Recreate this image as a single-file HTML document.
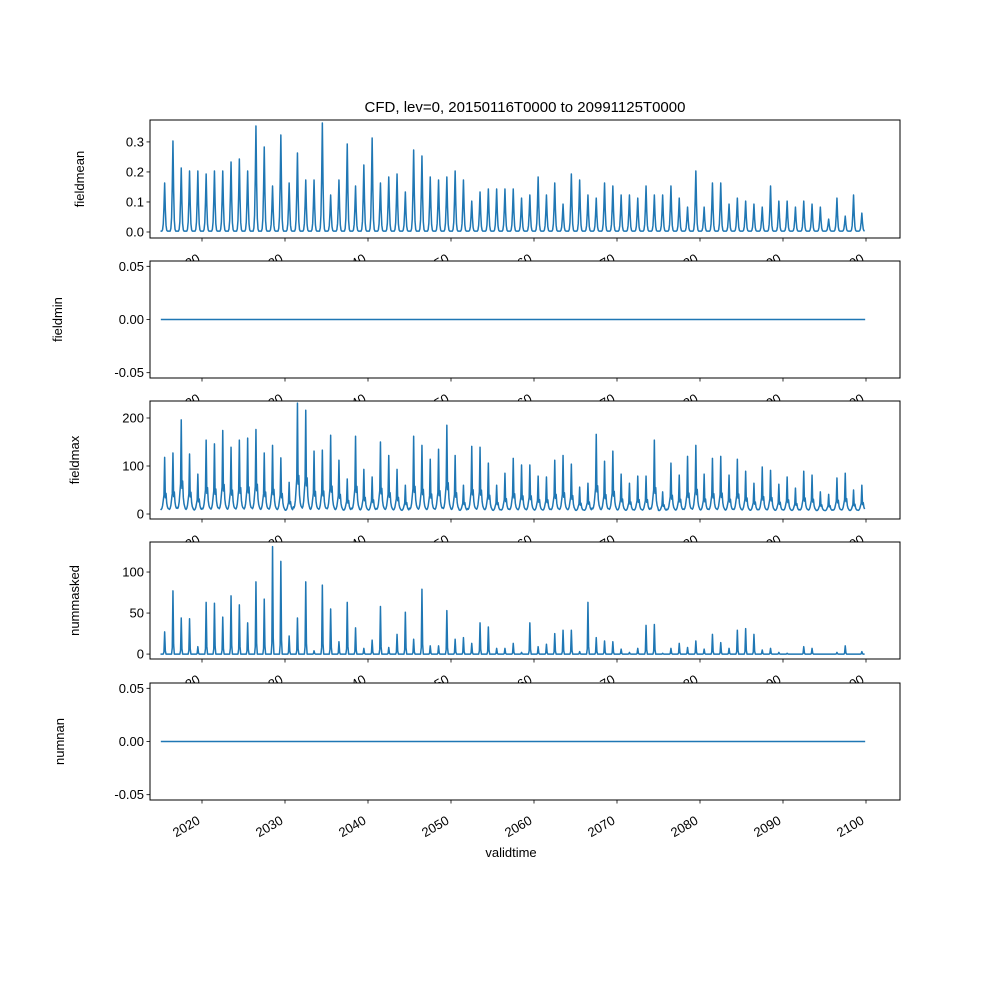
<!DOCTYPE html>
<html><head><meta charset="utf-8"><style>
body{margin:0;background:#fff}
svg{display:block;font-family:"Liberation Sans","DejaVu Sans",sans-serif}
</style></head><body>
<svg id="chart" width="1000" height="1000" viewBox="0 0 1000 1000"></svg>
<script>
const years = [];
for (let y = 2015; y <= 2099; y++) years.push(y);
const xTicks = [2020,2030,2040,2050,2060,2070,2080,2090,2100];
const fieldmeanPeaks = [.16,.30,.21,.20,.20,.19,.20,.20,.23,.24,.20,.35,.28,.15,.32,.16,.26,.17,.17,.36,.12,.17,.29,.15,.22,.31,.16,.18,.19,.13,.27,.25,.18,.17,.18,.20,.17,.10,.13,.14,.14,.14,.14,.11,
 .12,.18,.12,.16,.09,.19,.17,.12,.11,.16,.15,.12,.12,.11,.15,.12,.12,.15,.11,.08,.20,.08,.16,.16,.09,.11,.10,.09,.08,.15,.10,.10,.08,.10,.09,.08,.04,.11,.05,.12,.06];
const fieldmaxPeaks = [112,121,190,119,77,148,140,168,133,148,152,170,121,137,111,60,225,210,125,127,158,106,67,156,87,71,144,116,87,54,156,137,108,129,179,116,54,135,133,100,54,79,110,96,
 96,73,71,106,116,98,50,58,160,104,125,77,58,73,73,148,40,100,75,114,137,77,110,114,75,108,83,58,92,85,56,71,48,83,75,40,35,69,79,44,54];
const nummaskedPeaks = [27,77,44,43,9,63,62,45,71,60,38,88,67,131,113,22,44,88,4,84,55,15,63,32,7,17,58,8,24,51,18,79,10,10,53,18,20,13,38,33,7,7,13,2,
 38,9,12,25,29,29,3,63,20,16,15,6,2,7,35,36,1,7,13,8,16,6,24,14,7,29,31,24,5,7,2,1,0,9,7,0,0,2,10,0,3];
const meanProfile = [0,0,0,.03,.15,.5,1,.45,.12,.02,0,0];
const maxProfile = [.04,.03,.05,.1,.2,.3,1,.25,.33,.15,.08,.05];
const maskProfile = [0,0,0,0,0,.1,1,.15,0,0,0,0];

const NS = "http://www.w3.org/2000/svg";
const svg = document.getElementById('chart');
function el(tag, attrs, parent){const e=document.createElementNS(NS,tag);for(const k in attrs)e.setAttribute(k,attrs[k]);(parent||svg).appendChild(e);return e;}
const X0=150,X1=900;
const xs = t => 202 + (t-2020)*8.3;

function series(peaks, profile, base){
  const pts=[];
  years.forEach((y,i)=>{
    for(let m=0;m<12;m++){
      if(y===2099 && m>10) break;
      pts.push([y+m/12, base + peaks[i]*profile[m]]);
    }
  });
  return pts;
}

const panels = [
 {name:'fieldmean', lx:80, top:120, bot:238, lo:-0.02, hi:0.373, ticks:[0,0.1,0.2,0.3], fmt:v=>v.toFixed(1), data:series(fieldmeanPeaks,meanProfile,0.003)},
 {name:'fieldmin', lx:58, top:261, bot:378, lo:-0.055, hi:0.055, ticks:[-0.05,0,0.05], fmt:v=>v.toFixed(2), data:null},
 {name:'fieldmax', lx:75, top:401, bot:519, lo:-10.4, hi:235.4, ticks:[0,100,200], fmt:v=>String(v), data:series(fieldmaxPeaks,maxProfile,6)},
 {name:'nummasked', lx:75, top:542, bot:659, lo:-6, hi:136.6, ticks:[0,50,100], fmt:v=>String(v), data:series(nummaskedPeaks,maskProfile,0)},
 {name:'numnan', lx:60, top:683, bot:800, lo:-0.055, hi:0.055, ticks:[-0.05,0,0.05], fmt:v=>v.toFixed(2), data:null},
];

const t=el('text',{x:525,y:112,'text-anchor':'middle','font-size':15});
t.textContent='CFD, lev=0, 20150116T0000 to 20991125T0000';



panels.forEach((p,pi)=>{
  const g=el('g',{});
  
  
  el('rect',{x:X0,y:p.top,width:X1-X0,height:p.bot-p.top,fill:'#fff'},g);
  const ys=v=>p.bot-(v-p.lo)/(p.hi-p.lo)*(p.bot-p.top);
  let d='';
  if(p.data){ p.data.forEach((q,i)=>{d+=(i?'L':'M')+xs(q[0]).toFixed(2)+' '+ys(q[1]).toFixed(2);}); }
  else { d='M'+xs(2015+0.04)+' '+ys(0)+'L'+xs(2099.9)+' '+ys(0); }
  const line=el('path',{d:d,fill:'none',stroke:'#1f77b4','stroke-width':1.5,'stroke-linejoin':'round'},g);
  
  
  el('rect',{x:X0,y:p.top,width:X1-X0,height:p.bot-p.top,fill:'none',stroke:'#000','stroke-width':1},g);
  p.ticks.forEach(v=>{
    const y=ys(v);
    el('line',{x1:X0-3.5,x2:X0,y1:y,y2:y,stroke:'#000','stroke-width':0.8},g);
    const tl=el('text',{x:X0-6,y:y+4.5,'text-anchor':'end','font-size':13},g);
    tl.textContent=p.fmt(v);
    
    
  });
  const yl=el('text',{x:0,y:0,'text-anchor':'middle','font-size':13,transform:`translate(${p.lx+4},${(p.top+p.bot)/2}) rotate(-90)`},g);
  yl.textContent=p.name;
  
  
  xTicks.forEach(v=>{
    const x=xs(v);
    el('line',{x1:x,x2:x,y1:p.bot,y2:p.bot+3.5,stroke:'#000','stroke-width':0.8},g);
    const xl=el('text',{x:0,y:0,'text-anchor':'end','font-size':13,transform:`translate(${x-1},${p.bot+23}) rotate(-30)`},g);
    xl.textContent=String(v);
    
    
  });
});
const xlab=el('text',{x:511,y:857,'text-anchor':'middle','font-size':13});
xlab.textContent='validtime';


</script>
</body></html>
